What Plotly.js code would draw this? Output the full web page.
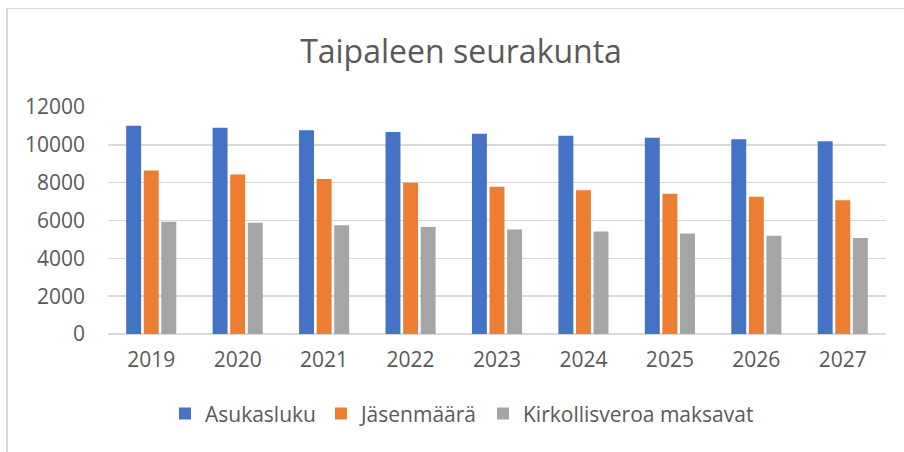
<!DOCTYPE html>
<html>
<head>
<meta charset="utf-8">
<script src="https://cdn.plot.ly/plotly-3.0.1.min.js"></script>
<style>
html,body{margin:0;padding:0;background:#fff;overflow:hidden;}
#chart{width:904px;height:452px;position:absolute;left:0;top:0;}
#frame{position:absolute;left:6px;top:8px;width:1000px;height:1000px;border:1px solid #d9d9d9;border-left-width:2px;pointer-events:none;}
</style>
</head>
<body>
<div id="chart"></div>
<div id="frame"></div>
<script>
const years = ['2019','2020','2021','2022','2023','2024','2025','2026','2027'];
const asukasluku = [11010, 10900, 10770, 10680, 10590, 10480, 10380, 10290, 10190];
const jasenmaara = [8640, 8430, 8200, 8000, 7790, 7600, 7420, 7260, 7070];
const veronmaksajat = [5930, 5880, 5750, 5650, 5520, 5420, 5310, 5190, 5080];
const seriesNames = ['Asukasluku', 'Jäsenmäärä', 'Kirkollisveroa maksavat'];
const colors = ['#4472C4', '#ED7D31', '#A5A5A5'];
const FONT = '"Open Sans", sans-serif';
const txt = '#595959';

const data = [asukasluku, jasenmaara, veronmaksajat].map((vals, i) => ({
  type: 'bar', x: years, y: vals, name: seriesNames[i],
  marker: {color: colors[i], line: {width: 0}}, hoverinfo: 'none'
}));

const layout = {
  width: 904, height: 452,
  paper_bgcolor: 'rgba(0,0,0,0)', plot_bgcolor: 'rgba(0,0,0,0)',
  margin: {l: 108, r: 18, t: 107, b: 118},
  font: {family: FONT, color: txt, size: 21},
  title: {text: 'Taipaleen seurakunta', font: {family: FONT, size: 32, color: txt},
    x: 461/904, xanchor: 'center', y: 1 - 52/452, yanchor: 'middle'},
  barmode: 'group', bargap: 0.39, bargroupgap: 0.15,
  showlegend: true,
  legend: {orientation: 'h', x: 0.455, xanchor: 'center', y: -0.352, yanchor: 'middle',
    font: {family: FONT, size: 21, color: txt}, itemwidth: 30, traceorder: 'normal'},
  xaxis: {type: 'category', showgrid: false, zeroline: false, showline: false,
    ticks: '', ticklabelstandoff: 11, tickfont: {family: FONT, size: 21, color: txt}},
  yaxis: {range: [0, 12000], dtick: 2000, tick0: 0, tickformat: 'd', showgrid: true, gridcolor: '#d9d9d9', gridwidth: 1.5,
    zeroline: true, zerolinecolor: '#d9d9d9', zerolinewidth: 1.5, showline: false, ticks: '',
    ticklabelstandoff: 22, tickfont: {family: FONT, size: 21, color: txt}}
};

Plotly.newPlot('chart', data, layout, {staticPlot: true, displayModeBar: false});
</script>
</body>
</html>
